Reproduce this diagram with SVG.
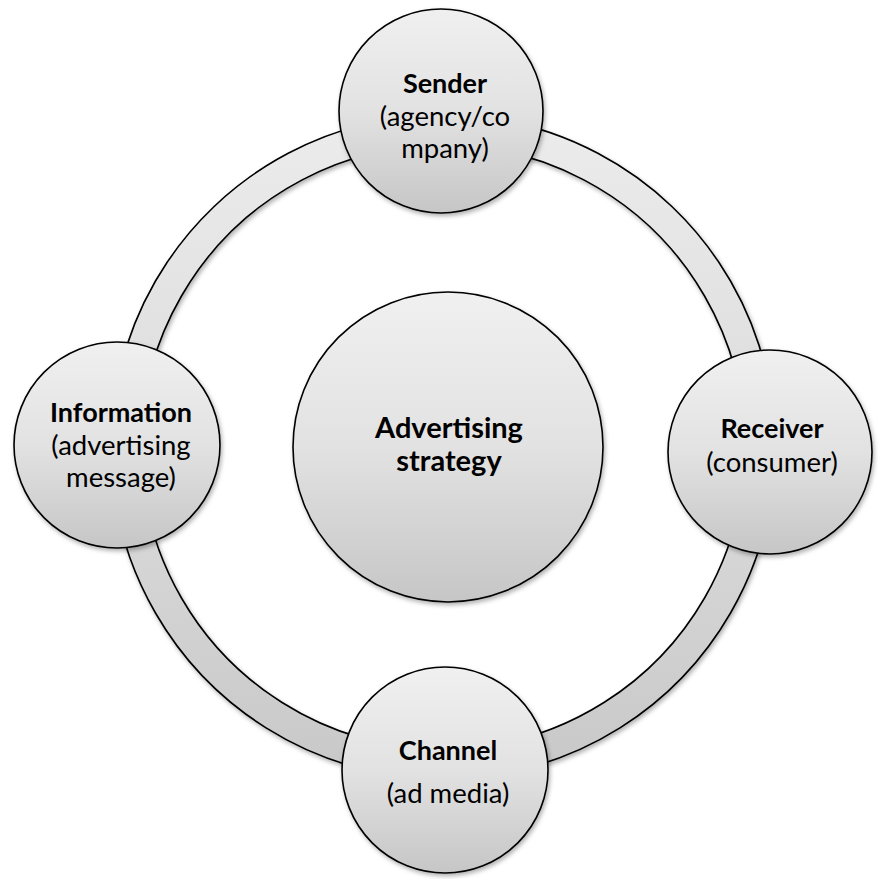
<svg xmlns="http://www.w3.org/2000/svg" width="879" height="879" viewBox="0 0 879 879">
  <defs>
    <linearGradient id="ballFill" x1="0" y1="0" x2="0" y2="1">
      <stop offset="0" stop-color="#f0f0f0"/>
      <stop offset="0.5" stop-color="#e2e2e2"/>
      <stop offset="1" stop-color="#c6c6c6"/>
    </linearGradient>
    <linearGradient id="ringFill" gradientUnits="userSpaceOnUse" x1="0" y1="115" x2="0" y2="780">
      <stop offset="0" stop-color="#ececec"/>
      <stop offset="0.5" stop-color="#dcdcdc"/>
      <stop offset="1" stop-color="#c8c8c8"/>
    </linearGradient>
    <filter id="shade" x="-20%" y="-20%" width="140%" height="140%">
      <feDropShadow dx="1.5" dy="2.5" stdDeviation="2" flood-color="#000" flood-opacity="0.3"/>
    </filter>
  </defs>
  <style>
    .ball { fill: url(#ballFill); stroke: #000; stroke-width: 1.6; filter: url(#shade); }
    .ring { fill: url(#ringFill); fill-rule: evenodd; stroke: #000; stroke-width: 1.6; filter: url(#shade); }
    text { font-family: Lato, "Open Sans", "Liberation Sans", sans-serif; fill: #000; text-anchor: middle; }
    .title { font-weight: bold; font-size: 27px; }
    .sub { font-size: 27.5px; }
    .main { font-weight: bold; font-size: 29px; }
  </style>

  <rect width="879" height="879" fill="#fff"/>

  <!-- cycle band linking the four outer stages -->
  <g id="connectors">
    <path class="ring" d="M443,115 a332,332 0 1,0 0.01,0 Z M443,145 a302,302 0 1,0 0.01,0 Z"/>
  </g>

  <g id="strategy">
    <circle class="ball" cx="448" cy="447" r="155"/>
    <text class="main" x="449" y="438">Advertising</text>
    <text class="main" x="449" y="471">strategy</text>
  </g>

  <g id="sender">
    <circle class="ball" cx="441" cy="111" r="102"/>
    <text class="title" x="445" y="93">Sender</text>
    <text class="sub" x="445" y="126">(agency/co</text>
    <text class="sub" x="445" y="158">mpany)</text>
  </g>

  <g id="receiver">
    <circle class="ball" cx="770" cy="452" r="102"/>
    <text class="title" x="772" y="438">Receiver</text>
    <text class="sub" x="772" y="472">(consumer)</text>
  </g>

  <g id="channel">
    <circle class="ball" cx="445" cy="770" r="103"/>
    <text class="title" x="448" y="760">Channel</text>
    <text class="sub" x="448" y="803">(ad media)</text>
  </g>

  <g id="information">
    <circle class="ball" cx="117" cy="445" r="103"/>
    <text class="title" x="121" y="422">Information</text>
    <text class="sub" x="121" y="455">(advertising</text>
    <text class="sub" x="121" y="487">message)</text>
  </g>
</svg>
